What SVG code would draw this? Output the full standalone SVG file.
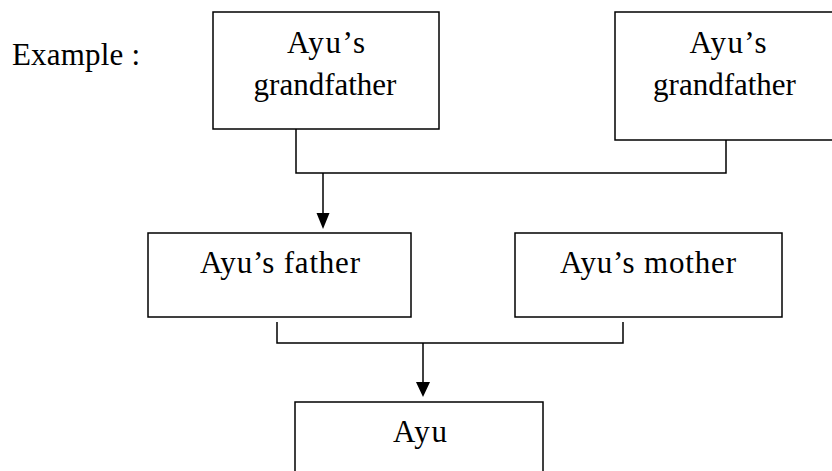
<svg xmlns="http://www.w3.org/2000/svg" width="832" height="471" viewBox="0 0 832 471">
<defs>
<style>
.box{fill:#fff;stroke:#000;stroke-width:1.5}
.t{font-family:"Liberation Serif","Times New Roman",serif;font-size:31px;fill:#000;text-anchor:middle}
.ln{fill:none;stroke:#000;stroke-width:1.5}
.ah{fill:#000}
</style>
</defs>
<rect width="832" height="471" fill="#fff"/>
<text x="12" y="65" class="t" style="text-anchor:start" textLength="128">Example :</text>
<g id="gf1">
<rect x="213" y="12" width="226" height="117" class="box"/>
<text x="326" y="53" class="t" textLength="78">Ayu’s</text>
<text x="325" y="95" class="t">grandfather</text>
</g>
<g id="gf2">
<rect x="615" y="12" width="220" height="128" class="box"/>
<text x="728" y="53" class="t" textLength="77">Ayu’s</text>
<text x="724.5" y="95" class="t">grandfather</text>
</g>
<g id="father">
<rect x="148" y="233" width="263" height="84" class="box"/>
<text x="280" y="273" class="t" textLength="160">Ayu’s father</text>
</g>
<g id="mother">
<rect x="515" y="233" width="267" height="84" class="box"/>
<text x="648" y="273" class="t" textLength="176">Ayu’s mother</text>
</g>
<g id="ayu">
<rect x="295" y="402" width="248" height="80" class="box"/>
<text x="420" y="442" class="t" textLength="54">Ayu</text>
</g>
<g id="connectors">
<polyline points="296,129 296,173 726,173 726,140" class="ln"/>
<line x1="323" y1="173" x2="323" y2="215" class="ln"/>
<path d="M316.5,213 L329.5,213 L323,229 Z" class="ah"/>
<polyline points="277,322 277,343 623,343 623,322" class="ln"/>
<line x1="423" y1="343" x2="423" y2="384" class="ln"/>
<path d="M416,382 L430,382 L423,397 Z" class="ah"/>
</g>
</svg>
